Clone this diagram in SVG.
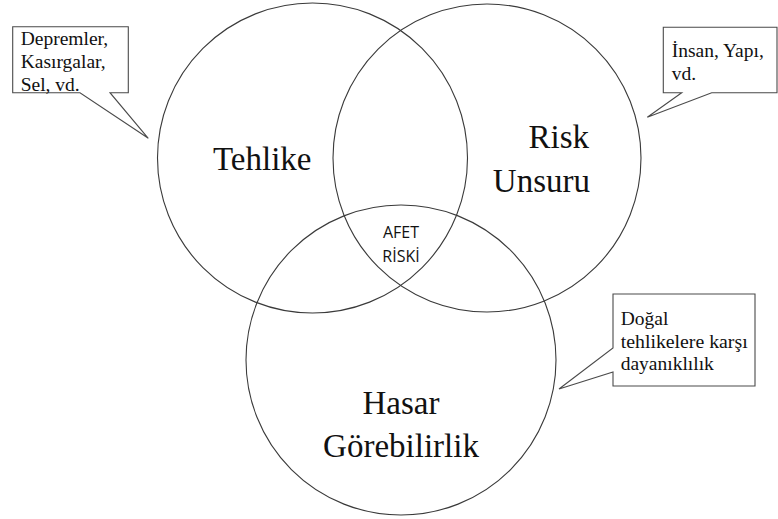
<svg xmlns="http://www.w3.org/2000/svg" width="778" height="519" viewBox="0 0 778 519">
<style>
.c{fill:none;stroke:#3a3a3a;stroke-width:1.1}
.co{fill:#fff;stroke:#4a4a4a;stroke-width:1.1}
.big,.sm{font-family:'Liberation Serif','Tinos','Times New Roman','Times','DejaVu Serif','Noto Serif','FreeSerif','Nimbus Roman','Nimbus Roman No9 L',serif;fill:#111}
.big{font-size:33px}
.sm{font-size:19.5px}
.ar{font-family:'Open Sans','Liberation Sans',sans-serif;font-size:16px;fill:#111}
</style>
<rect width="778" height="519" fill="#fff"/>
<g id="tehlike">
<circle class="c" cx="312.5" cy="158" r="155"/>
<text class="big" x="213" y="170">Tehlike</text>
</g>
<g id="risk-unsuru">
<circle class="c" cx="487" cy="158" r="154"/>
<text class="big" text-anchor="end" x="589" y="148">Risk</text>
<text class="big" text-anchor="end" x="590" y="192">Unsuru</text>
</g>
<g id="hasar">
<circle class="c" cx="401" cy="360" r="155"/>
<text class="big" text-anchor="middle" x="401" y="414">Hasar</text>
<text class="big" text-anchor="middle" x="401" y="457">Görebilirlik</text>
</g>
<g id="afet-riski">
<text class="ar" text-anchor="middle" x="401" y="238">AFET</text>
<text class="ar" text-anchor="middle" x="401" y="262">RİSKİ</text>
</g>
<g id="connectors">
<g id="callout-tehlike">
<path class="co" d="M12.7,26.7 H128.3 V92.7 H110 L148.3,138.3 L80,92.7 H12.7 Z"/>
<text class="sm" x="20.7" y="45">Depremler,</text>
<text class="sm" x="20.7" y="68">Kasırgalar,</text>
<text class="sm" x="20.7" y="90.5">Sel, vd.</text>
</g>
<g id="callout-risk">
<path class="co" d="M663.3,27.3 H777 V92.7 H711.7 L647.3,117.3 L681.7,92.7 H663.3 Z"/>
<text class="sm" x="671.7" y="57.3">İnsan, Yapı,</text>
<text class="sm" x="671.7" y="80">vd.</text>
</g>
<g id="callout-hasar">
<path class="co" d="M613,294 H755 V386 H613 V372 L559,389 L613,348 Z"/>
<text class="sm" x="620.7" y="325">Doğal</text>
<text class="sm" x="620.7" y="348.3" textLength="127" lengthAdjust="spacingAndGlyphs">tehlikelere karşı</text>
<text class="sm" x="620.7" y="370">dayanıklılık</text>
</g>
</g>
</svg>
